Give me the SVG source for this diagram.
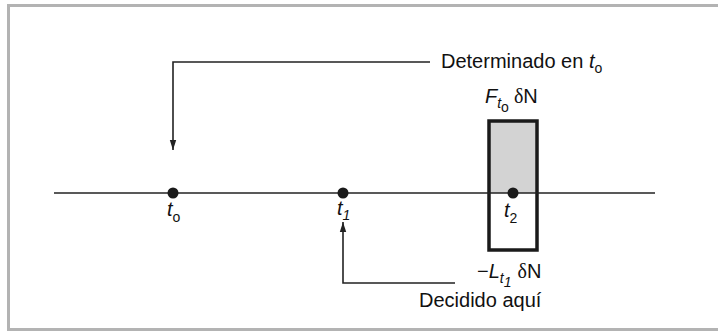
<svg xmlns="http://www.w3.org/2000/svg" width="718" height="331" viewBox="0 0 718 331">
<style>
.ln{stroke:#222;stroke-width:1.6;fill:none}
.tx{font-family:"Liberation Sans",Arial,sans-serif;font-size:20px;fill:#111}
.it{font-style:italic}
.sub{font-size:14px}
.gr{font-family:"Liberation Serif","Times New Roman",serif}
</style>
<defs>
<marker id="ah" viewBox="0 0 10 10" refX="10" refY="5" markerWidth="10" markerHeight="10" markerUnits="userSpaceOnUse" orient="auto">
<path d="M0,1.8 L10,5 L0,8.2 Z" fill="#222"/>
</marker>
</defs>
<rect x="0" y="0" width="718" height="331" fill="#fff"/>
<rect x="8.5" y="5.5" width="720" height="324" fill="none" stroke="#b3b3b3" stroke-width="3"/>
<g id="box">
<rect x="489" y="121" width="48" height="72" fill="#d3d3d3"/>
<rect x="489" y="121" width="48" height="129" fill="none" stroke="#1a1a1a" stroke-width="3.5"/>
</g>
<g id="axis">
<line class="ln" x1="54" y1="193" x2="655" y2="193"/>
</g>
<g id="t0">
<circle cx="173" cy="193" r="5.5" fill="#1a1a1a"/>
<text class="tx" x="167" y="216"><tspan class="it">t</tspan><tspan class="sub" dy="6">o</tspan></text>
</g>
<g id="t1">
<circle cx="343" cy="193" r="5.5" fill="#1a1a1a"/>
<text class="tx" x="337" y="215"><tspan class="it">t</tspan><tspan class="sub it" dy="5">1</tspan></text>
</g>
<g id="t2">
<circle cx="513" cy="193" r="5.5" fill="#1a1a1a"/>
<text class="tx" x="504" y="217"><tspan class="it">t</tspan><tspan class="sub" dy="6">2</tspan></text>
</g>
<g id="labelF">
<text class="tx" x="485" y="103"><tspan class="it">F</tspan><tspan class="sub it" dy="5">t</tspan><tspan class="sub" font-size="12" dy="4">o</tspan><tspan class="gr" dx="5" dy="-9">δ</tspan><tspan>N</tspan></text>
</g>
<g id="labelL">
<text class="tx" x="477" y="278"><tspan>−</tspan><tspan class="it">L</tspan><tspan class="sub it" dy="5">t</tspan><tspan class="sub it" font-size="12" dy="4">1</tspan><tspan class="gr" dx="6" dy="-9">δ</tspan><tspan>N</tspan></text>
</g>
<g id="determinado">
<text class="tx" x="441" y="68">Determinado en <tspan class="it">t</tspan><tspan class="sub" dy="5">o</tspan></text>
</g>
<g id="decidido">
<text class="tx" x="419" y="307">Decidido aquí</text>
</g>
<g id="connectors">
<polyline class="ln" points="430,62 173,62 173,150" marker-end="url(#ah)"/>
<polyline class="ln" points="455,283 343,283 343,222" marker-end="url(#ah)"/>
</g>
</svg>
